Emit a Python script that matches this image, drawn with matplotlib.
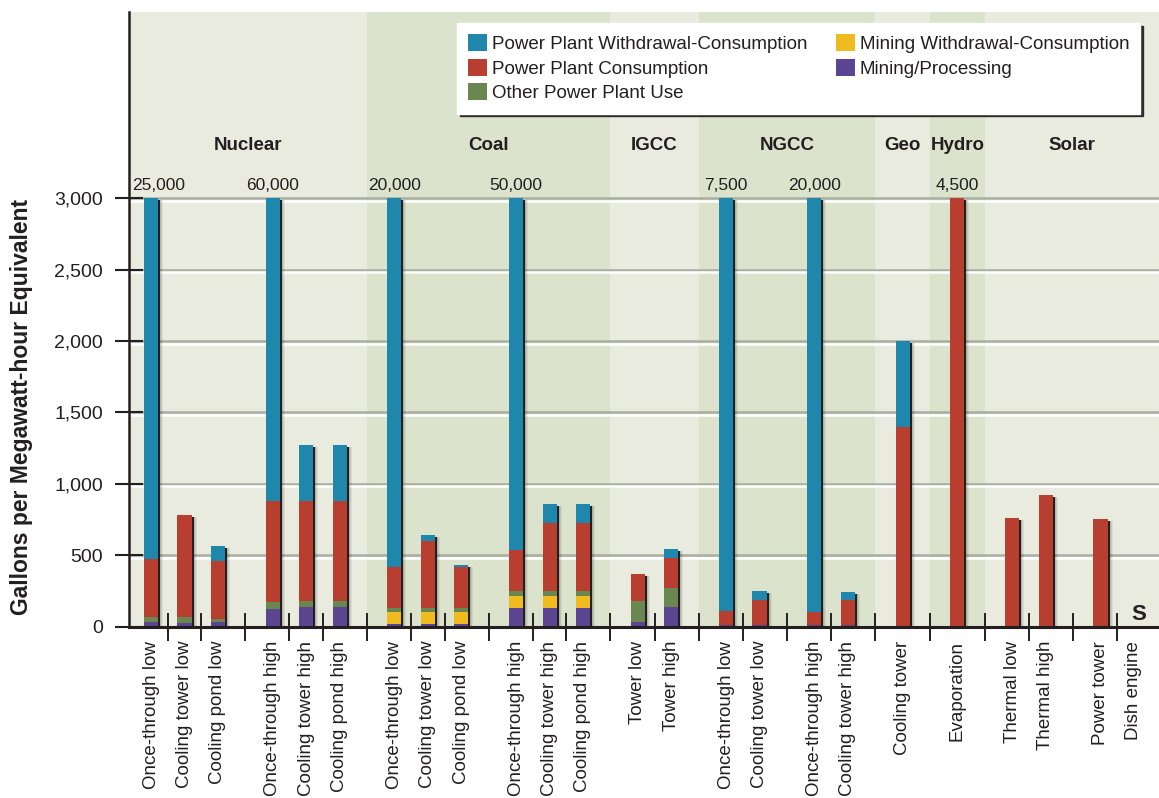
import numpy as np
import matplotlib
matplotlib.use("Agg")
import matplotlib.pyplot as plt
from matplotlib.transforms import ScaledTranslation
from matplotlib.patches import Patch

plt.rcParams['font.family'] = ['Liberation Sans', 'DejaVu Sans']

# ---------------- data ----------------
groups = ["Nuclear", "Coal", "IGCC", "NGCC", "Geo", "Hydro", "Solar"]
group_clusters = [[3, 3], [3, 3], [2], [2, 2], [1], [1], [2, 2]]

categories = [
    "Once-through low", "Cooling tower low", "Cooling pond low",
    "Once-through high", "Cooling tower high", "Cooling pond high",
    "Once-through low", "Cooling tower low", "Cooling pond low",
    "Once-through high", "Cooling tower high", "Cooling pond high",
    "Tower low", "Tower high",
    "Once-through low", "Cooling tower low", "Once-through high", "Cooling tower high",
    "Cooling tower",
    "Evaporation",
    "Thermal low", "Thermal high", "Power tower", "Dish engine",
]

# stacked segments (gallons per MWh), bottom to top
mining_processing = [34, 27, 34, 122, 139, 139, 20, 20, 20, 132, 132, 132,
                     34, 137, 8, 8, 8, 8, 0, 0, 0, 0, 0, 0]
mining_withdrawal_consumption = [0, 0, 0, 0, 0, 0, 84, 84, 84, 84, 84, 84,
                                 0, 0, 0, 0, 0, 0, 0, 0, 0, 0, 0, 0]
other_power_plant_use = [35, 42, 18, 52, 42, 42, 28, 28, 28, 32, 32, 32,
                         144, 135, 0, 0, 0, 0, 0, 0, 0, 0, 0, 0]
power_plant_consumption = [402, 711, 407, 706, 699, 699, 285, 467, 285, 290, 477, 477,
                           189, 208, 100, 180, 96, 180, 1400, 4500, 760, 920, 750, 0]
power_plant_withdrawal_minus_consumption = [24529, 0, 105, 59120, 392, 392, 19583, 42, 14, 49462, 134, 134,
                                            0, 63, 7392, 60, 19896, 53, 600, 0, 0, 0, 0, 0]

series_names = ["Mining/Processing", "Mining Withdrawal-Consumption", "Other Power Plant Use",
                "Power Plant Consumption", "Power Plant Withdrawal-Consumption"]
series_values = [mining_processing, mining_withdrawal_consumption, other_power_plant_use,
                 power_plant_consumption, power_plant_withdrawal_minus_consumption]
series_colors = ["#5b4591", "#efbb1e", "#6b8750", "#b83f2f", "#1e87ab"]

y_ticks = [0, 500, 1000, 1500, 2000, 2500, 3000]
axis_cap = 3000
small_marker = "S"   # shown for Dish engine
small_marker_category = "Dish engine"

# ---------------- layout ----------------
INK = "#231f20"
LIGHT = "#e9ebdf"
DARK = "#dbe3cc"
GAP = 1.64
W = 0.42

# positions: step 1 within a cluster, GAP between clusters
positions = []
group_of_bar = []
x = 0.0
first = True
for gi, clusters in enumerate(group_clusters):
    for n in clusters:
        for i in range(n):
            if not first:
                x += 1.0 if i > 0 else GAP
            first = False
            positions.append(x)
            group_of_bar.append(gi)
positions = np.array(positions)
group_of_bar = np.array(group_of_bar)

fig = plt.figure(figsize=(11.59, 7.98), dpi=100)
ax_left_px, ax_bottom_px, ax_top_px = 129, 626.5, 12
ax = fig.add_axes([ax_left_px / 1159, (798 - ax_bottom_px) / 798,
                   (1159 - ax_left_px) / 1159, (ax_bottom_px - ax_top_px) / 798])
xmin = positions[0] - 0.66
xmax = positions[-1] + 0.75
ax.set_xlim(xmin, xmax)
ax.set_ylim(0, 4307)

px_per_unit = (1159 - ax_left_px) / (xmax - xmin)
gal_per_px = 4307 / (ax_bottom_px - ax_top_px)

# background bands per group
for gi, name in enumerate(groups):
    idx = np.where(group_of_bar == gi)[0]
    l = xmin if idx[0] == 0 else (positions[idx[0] - 1] + positions[idx[0]]) / 2
    r = xmax if idx[-1] == len(positions) - 1 else (positions[idx[-1]] + positions[idx[-1] + 1]) / 2
    ax.axvspan(l, r, color=LIGHT if gi % 2 == 0 else DARK, zorder=0, lw=0)
    ax.text((l + r) / 2, 3370, name, ha='center', va='center', fontsize=13.5,
            fontweight='bold', color=INK, zorder=6)

# gridlines (grey with white emboss beneath)
ytrans = ax.get_yaxis_transform()
for v in y_ticks[1:]:
    ax.plot([0, 1], [v, v], transform=ytrans, color="#a9afa0", lw=1.8, zorder=1,
            solid_capstyle='butt')
    ax.plot([0, 1], [v, v], transform=ytrans + ScaledTranslation(0, -2.5 / 100, fig.dpi_scale_trans),
            color="white", lw=1.8, zorder=1, solid_capstyle='butt')

# stacked bars, clipped at axis cap
vals = np.array(series_values, dtype=float)
totals = vals.sum(axis=0)
shown = np.minimum(totals, axis_cap)

# shadows
for k, a in [(3, 0.10), (4, 0.08), (5, 0.06)]:
    ax.bar(positions + k / px_per_unit, np.maximum(shown - 2 * gal_per_px, 0), width=W,
           color='black', alpha=a, lw=0, zorder=2)
ax.bar(positions + 2 / px_per_unit, np.maximum(shown - 2 * gal_per_px, 0), width=W,
       color=INK, lw=0, zorder=2.1)

bottom = np.zeros(len(positions))
for name, v, c in zip(series_names, vals, series_colors):
    b = np.minimum(bottom, axis_cap)
    t = np.minimum(bottom + v, axis_cap)
    ax.bar(positions, t - b, bottom=b, width=W, color=c, lw=0, zorder=3)
    bottom = bottom + v

# labels for off-scale bars
fig.canvas.draw()
ax_x0 = ax.get_window_extent().x0
for p, tot in zip(positions, totals):
    if tot > axis_cap:
        t = ax.annotate(f"{int(round(tot)):,}", (p, axis_cap), xytext=(0, 4),
                        textcoords='offset points', ha='center', va='bottom',
                        fontsize=12.5, color=INK, zorder=6)
        bb = t.get_window_extent(fig.canvas.get_renderer())
        if bb.x0 < ax_x0 + 3:
            t.xyann = ((ax_x0 + 3 - bb.x0) * 72 / 100, 4)

# small marker for dish engine
di = categories.index(small_marker_category)
ax.annotate(small_marker, (positions[di], 0), xytext=(3.4, 4.7), textcoords='offset points',
            ha='center', va='baseline', fontsize=16, fontweight='bold', color=INK, zorder=6)

# axes styling
for s in ['top', 'right']:
    ax.spines[s].set_visible(False)
ax.spines['left'].set_linewidth(1.8)
ax.spines['bottom'].set_linewidth(2.2)
for s in ['left', 'bottom']:
    ax.spines[s].set_color(INK)
    ax.spines[s].set_zorder(5)

ax.set_xticks(positions)
ax.set_xticklabels(categories, rotation=90, fontsize=13.5, color=INK)
ax.set_xticks((positions[:-1] + positions[1:]) / 2, minor=True)
ax.tick_params(axis='x', which='major', length=0, pad=10.4)
ax.tick_params(axis='x', which='minor', direction='inout', length=19.5, width=1.4, color=INK)

ax.set_yticks(y_ticks)
ax.set_yticklabels([f"{v:,}" for v in y_ticks], fontsize=14, color=INK)
ax.tick_params(axis='y', direction='inout', length=20, width=1.5, pad=8.6, color=INK)

fig.text(22 / 1159, 1 - 407 / 798, "Gallons per Megawatt-hour Equivalent", rotation=90,
         ha='center', va='center', fontsize=16.5, fontweight='bold', color=INK)

# legend
order = [4, 3, 2, 1, 0]
handles = [Patch(facecolor=series_colors[i], edgecolor='none') for i in order]
labels = [series_names[i] for i in order]
leg = ax.legend(handles, labels, ncol=2, loc='upper left',
                bbox_to_anchor=(457 / 1159, 1 - 23 / 798), bbox_transform=fig.transFigure,
                fontsize=13.5, frameon=True, fancybox=False,
                shadow={'color': INK, 'alpha': 0.9},
                borderpad=0.6, handlelength=1.02, handleheight=1.02, handletextpad=0.25,
                columnspacing=1.5, labelspacing=0.3, borderaxespad=0)
leg.get_frame().set_facecolor('white')
leg.get_frame().set_edgecolor('white')
leg.get_frame().set_alpha(1)
leg.set_zorder(10)
for txt in leg.get_texts():
    txt.set_color(INK)

fig.savefig("out.png", dpi=100, facecolor='white')
